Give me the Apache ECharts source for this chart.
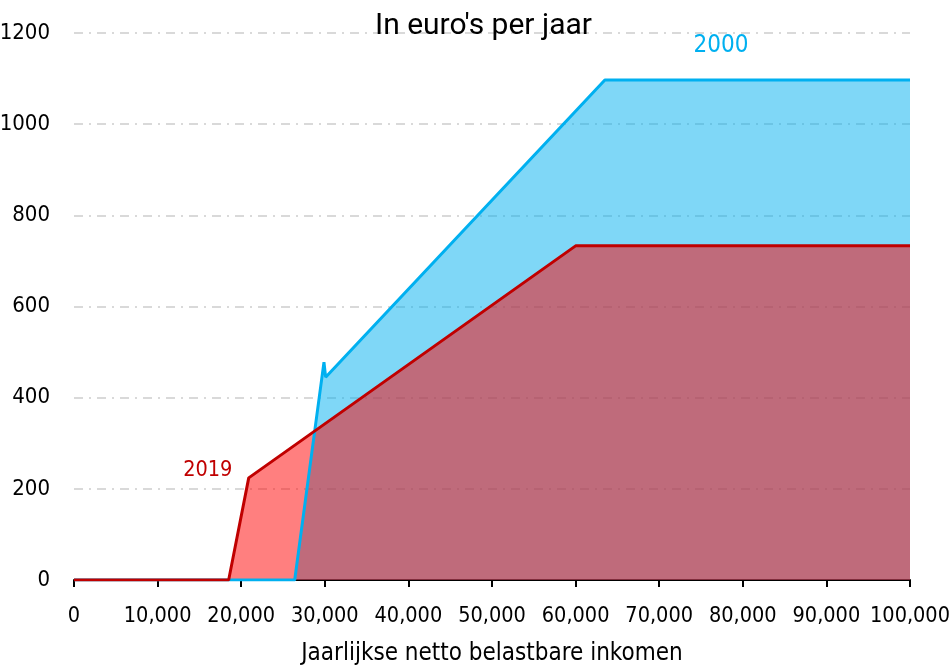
<!DOCTYPE html>
<html>
<head>
<meta charset="utf-8">
<script src="https://cdn.jsdelivr.net/npm/echarts@6/dist/echarts.min.js"></script>
<style>
  html, body { margin: 0; padding: 0; background: #fff; }
  #chart { width: 951px; height: 670px; }
</style>
</head>
<body>
<div id="chart"></div>
<script>
// income (x) and amount (y) for each year
const incomes2000 = [0, 26400, 29900, 30100, 63500, 100000]
const values2000 = [0, 0, 478, 445, 1097, 1097]
const incomes2019 = [0, 18500, 20900, 60000, 100000]
const values2019 = [0, 0, 224, 733, 733]

const yTicks = [0, 200, 400, 600, 800, 1000, 1200]
const xTicks = [0, 10000, 20000, 30000, 40000, 50000, 60000, 70000, 80000, 90000, 100000]

const BLUE = '#00b0f0'
const RED = '#c00000'
const tickFont = '"DejaVu Sans Condensed", "DejaVu Sans", sans-serif'

const pairs = (xs, ys) => xs.map((x, i) => [x, ys[i]])
const data2000 = pairs(incomes2000, values2000)
const data2019 = pairs(incomes2019, values2019)

const chart = echarts.init(document.getElementById('chart'))

chart.setOption({
  animation: false,
  title: {
    text: "In euro's per jaar",
    left: 370,
    top: 6,
    textStyle: { fontFamily: 'Roboto', fontWeight: 'normal', fontSize: 30, color: '#000' }
  },
  grid: { left: 74, right: 41, top: 33, bottom: 90, outerBoundsMode: 'none', containLabel: false },
  xAxis: {
    type: 'value',
    min: xTicks[0],
    max: xTicks[xTicks.length - 1],
    interval: 10000,
    name: 'Jaarlijkse netto belastbare inkomen',
    nameLocation: 'middle',
    nameGap: 62,
    nameTextStyle: { fontFamily: tickFont, fontSize: 24, color: '#000' },
    axisLine: { lineStyle: { color: '#000', width: 2 } },
    axisTick: { show: true, length: 7, lineStyle: { color: '#000', width: 2 } },
    axisLabel: {
      margin: 25,
      fontFamily: tickFont,
      fontSize: 21.5,
      color: '#000',
      hideOverlap: false,
      showMaxLabel: true,
      formatter: v => v.toLocaleString('en-US')
    },
    splitLine: { show: false }
  },
  yAxis: {
    type: 'value',
    min: yTicks[0],
    max: yTicks[yTicks.length - 1],
    interval: 200,
    axisLine: { show: false },
    axisTick: { show: false },
    axisLabel: { margin: 24, fontFamily: tickFont, fontSize: 22, color: '#000', formatter: v => String(v) },
    splitLine: { lineStyle: { color: '#d9d9d9', width: 2, type: [9, 6, 2, 6] } }
  },
  series: [
    {
      name: '2000 area',
      type: 'line',
      data: data2000,
      symbol: 'none',
      lineStyle: { width: 0 },
      areaStyle: { color: BLUE, opacity: 0.5 },
      z: 2
    },
    {
      name: '2019 area',
      type: 'line',
      data: data2019,
      symbol: 'none',
      lineStyle: { width: 0 },
      areaStyle: { color: '#ff0000', opacity: 0.5 },
      z: 3
    },
    {
      name: '2000',
      type: 'line',
      data: data2000,
      symbol: 'none',
      lineStyle: { color: BLUE, width: 3 },
      z: 4,
      markPoint: {
        symbol: 'circle',
        symbolSize: 0,
        data: [{ coord: [77400, 1173], value: '2000' }],
        label: { show: true, position: 'inside', color: BLUE, fontFamily: tickFont, fontSize: 24 }
      }
    },
    {
      name: '2019',
      type: 'line',
      data: data2019,
      symbol: 'none',
      lineStyle: { color: RED, width: 3 },
      z: 5,
      markPoint: {
        symbol: 'circle',
        symbolSize: 0,
        data: [{ coord: [16000, 240], value: '2019' }],
        label: { show: true, position: 'inside', color: RED, fontFamily: tickFont, fontSize: 21.5 }
      }
    }
  ]
})
</script>
</body>
</html>
